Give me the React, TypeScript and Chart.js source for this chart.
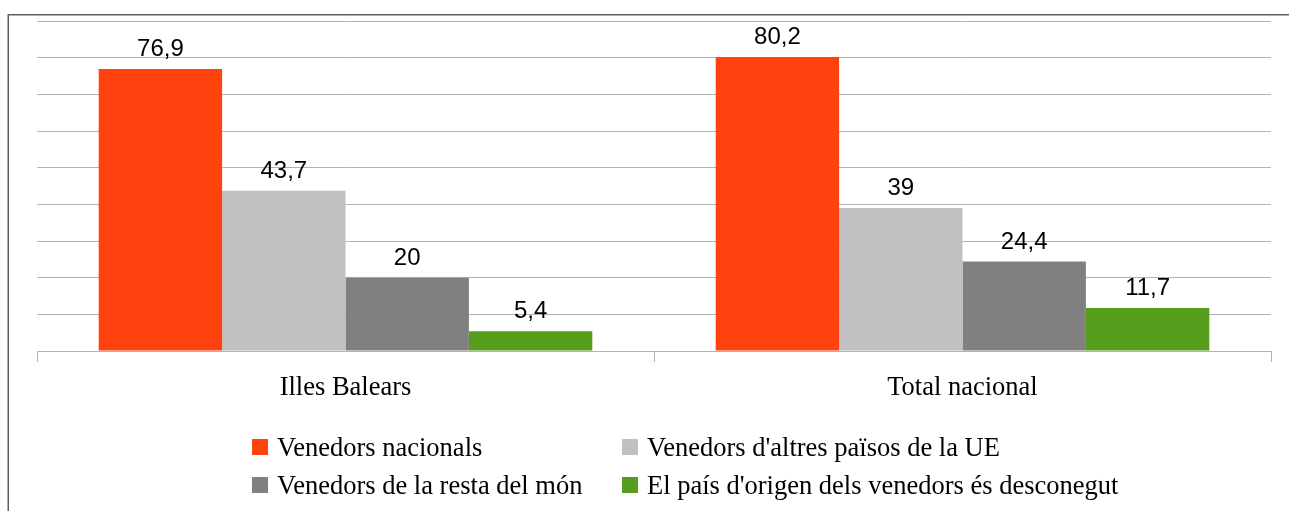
import React, { useEffect, useRef } from "react";
import { Chart, registerables } from "chart.js";

Chart.register(...registerables);

const categories = ["Illes Balears", "Total nacional"];
const seriesNames = [
  "Venedors nacionals",
  "Venedors d'altres països de la UE",
  "Venedors de la resta del món",
  "El país d'origen dels venedors és desconegut",
];
const nacionals = [76.9, 80.2];
const altresUE = [43.7, 39];
const restaMon = [20, 24.4];
const desconegut = [5.4, 11.7];
const seriesColors = ["#ff420e", "#c0c0c0", "#808080", "#579d1c"];

const W = 1289;
const H = 511;

const fmt = (v: number) => String(v).replace(".", ",");

const framePlugin = {
  id: "frame",
  beforeDraw(chart: any) {
    const ctx = chart.ctx;
    ctx.save();
    ctx.fillStyle = "#ffffff";
    ctx.fillRect(0, 0, W, H);
    ctx.fillStyle = "#5e5e5e";
    ctx.fillRect(8, 14, W - 8, 1.5);
    ctx.fillRect(7.5, 14, 1.5, H - 14);
    ctx.restore();
  },
};

const valueLabelPlugin = {
  id: "valueLabels",
  afterDatasetsDraw(chart: any) {
    const ctx = chart.ctx;
    ctx.save();
    ctx.font = "24px 'Liberation Sans', Arial, sans-serif";
    ctx.fillStyle = "#000000";
    ctx.textAlign = "center";
    ctx.textBaseline = "alphabetic";
    chart.data.datasets.forEach((ds: any, i: number) => {
      const meta = chart.getDatasetMeta(i);
      meta.data.forEach((el: any, j: number) => {
        ctx.fillText(fmt(ds.data[j]), el.x, el.y - 13);
      });
    });
    ctx.restore();
  },
};

const legendPlugin = {
  id: "gridLegend",
  afterDraw(chart: any) {
    const ctx = chart.ctx;
    ctx.save();
    ctx.font = "26.5px 'Liberation Serif', 'Times New Roman', serif";
    ctx.fillStyle = "#000000";
    ctx.textAlign = "left";
    ctx.textBaseline = "alphabetic";
    const colX = [252, 622];
    const rowBoxTop = [439, 477];
    chart.data.datasets.forEach((ds: any, i: number) => {
      const col = i % 2;
      const row = Math.floor(i / 2);
      const x = colX[col];
      const y = rowBoxTop[row];
      ctx.fillStyle = ds.backgroundColor;
      ctx.fillRect(x, y, 16, 16);
      ctx.fillStyle = "#000000";
      ctx.fillText(ds.label, x + 25, y + 16.5);
    });
    ctx.restore();
  },
};

export default function App() {
  const ref = useRef<HTMLCanvasElement>(null);

  useEffect(() => {
    if (!ref.current) return;
    const values = [nacionals, altresUE, restaMon, desconegut];
    const chart = new Chart(ref.current, {
      type: "bar",
      data: {
        labels: categories,
        datasets: seriesNames.map((name, i) => ({
          label: name,
          data: values[i],
          backgroundColor: seriesColors[i],
          borderWidth: 0,
          categoryPercentage: 0.8,
          barPercentage: 1.0,
        })),
      },
      options: {
        responsive: false,
        animation: false,
        devicePixelRatio: 1,
        layout: { padding: { left: 37, right: 18, top: 21, bottom: 0 } },
        plugins: {
          legend: { display: false },
          tooltip: { enabled: false },
          title: { display: false },
        },
        scales: {
          x: {
            offset: true,
            grid: {
              offset: true,
              drawOnChartArea: false,
              drawTicks: true,
              tickLength: 11,
              color: "#b3b3b3",
            },
            border: { display: true, color: "#b3b3b3", width: 1 },
            ticks: {
              color: "#000000",
              padding: 10,
              font: { family: "'Liberation Serif', 'Times New Roman', serif", size: 26.5 },
              maxRotation: 0,
            },
            afterFit: (scale: any) => {
              scale.height = H - 351;
            },
          },
          y: {
            min: 0,
            max: 90,
            ticks: { display: false, stepSize: 10 },
            grid: { color: "#b3b3b3", drawTicks: false },
            border: { display: false },
            afterFit: (scale: any) => {
              scale.width = 0;
            },
          },
        },
      },
      plugins: [framePlugin, valueLabelPlugin, legendPlugin],
    });
    return () => chart.destroy();
  }, []);

  return (
    <div style={{ position: "absolute", left: 0, top: 0, width: W, height: H }}>
      <canvas ref={ref} width={W} height={H} style={{ display: "block" }} />
    </div>
  );
}
